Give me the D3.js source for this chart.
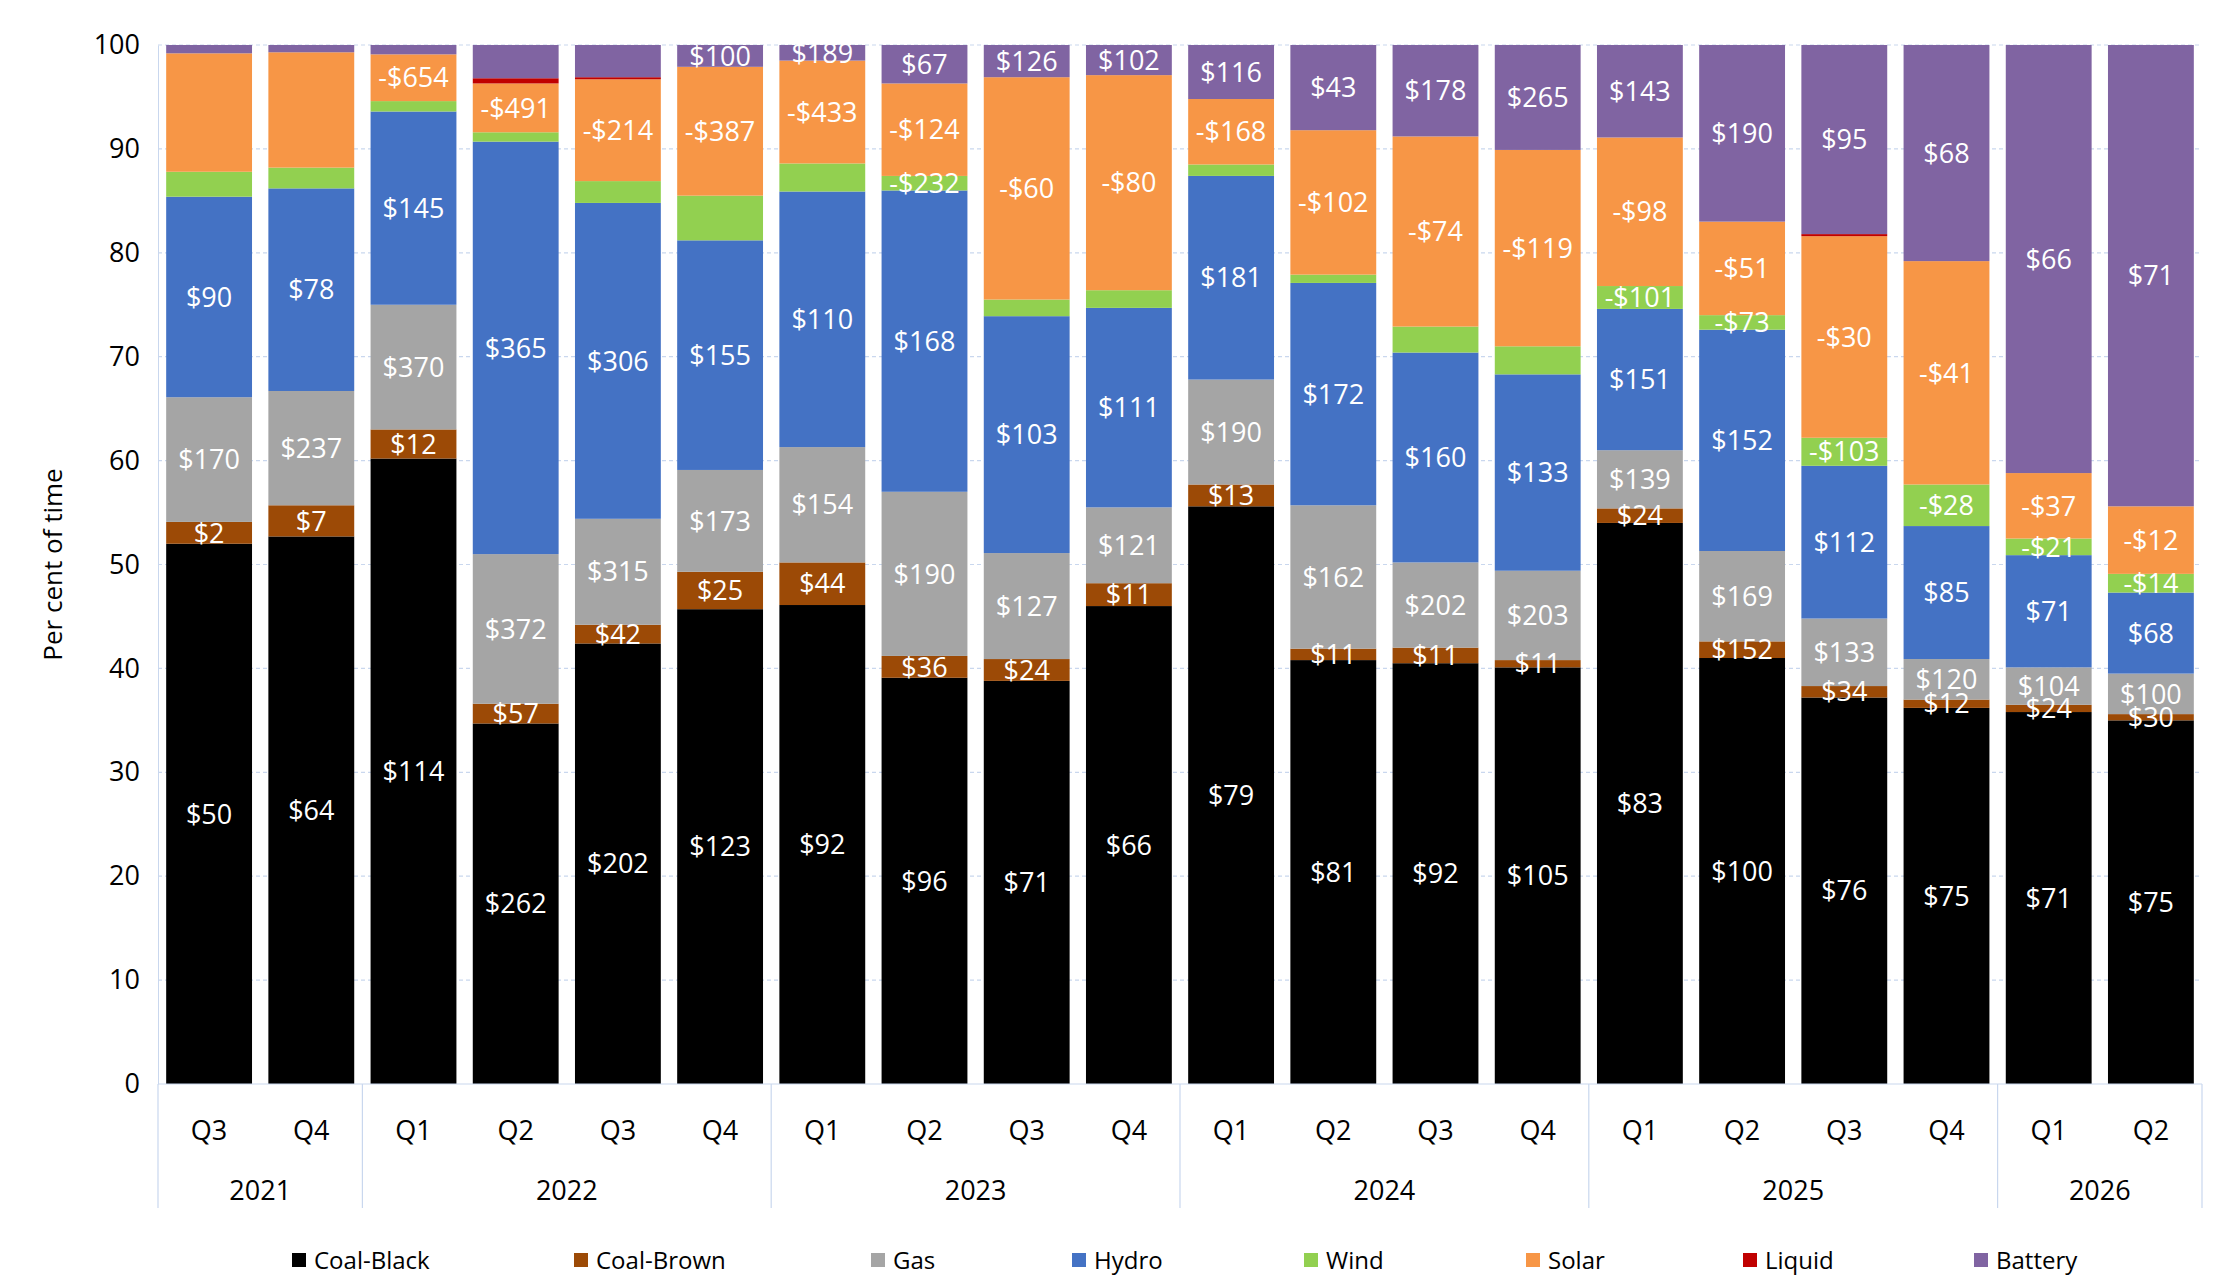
<!DOCTYPE html>
<html><head><meta charset="utf-8">
<script src="https://cdn.jsdelivr.net/npm/d3@7"></script>
<style>body{margin:0;background:#fff}text{font-family:"Open Sans","Noto Sans",sans-serif}</style>
</head><body><svg id="c" width="2225" height="1287"></svg>
<script>
const quarters=["Q3","Q4","Q1","Q2","Q3","Q4","Q1","Q2","Q3","Q4","Q1","Q2","Q3","Q4","Q1","Q2","Q3","Q4","Q1","Q2"];
const years=["2021","2021","2022","2022","2022","2022","2023","2023","2023","2023","2024","2024","2024","2024","2025","2025","2025","2025","2026","2026"];
const seriesNames=["Coal-Black","Coal-Brown","Gas","Hydro","Wind","Solar","Liquid","Battery"];
const colors=["#000000","#9C4A06","#A5A5A5","#4472C4","#92D050","#F79646","#C00000","#8064A2"];
const coalBlack=[52,52.7,60.2,34.7,42.4,45.7,46.1,39.1,38.8,46,55.6,40.8,40.5,40.1,54,41,37.2,36.2,35.8,35];
const coalBrown=[2.1,3,2.8,1.9,1.8,3.6,4.1,2.1,2.1,2.2,2.1,1.1,1.5,0.7,1.4,1.6,1.1,0.8,0.7,0.6];
const gas=[12,11,12,14.4,10.2,9.8,11.1,15.8,10.2,7.3,10.1,13.8,8.2,8.6,5.6,8.7,6.5,3.9,3.6,3.9];
const hydro=[19.3,19.5,18.6,39.7,30.4,22.1,24.6,29,22.8,19.2,19.6,21.4,20.2,18.9,13.6,21.3,14.7,12.8,10.8,7.8];
const wind=[2.4,2,1,0.9,2.1,4.3,2.7,1.4,1.6,1.7,1.1,0.8,2.5,2.7,2.2,1.4,2.7,4,1.6,1.8];
const solar=[11.4,11.1,4.5,4.7,9.8,12.4,9.9,8.9,21.4,20.7,6.3,13.9,18.3,18.9,14.3,9,19.4,21.5,6.3,6.5];
const liquid=[0,0,0,0.5,0.2,0,0,0,0,0,0,0,0,0,0,0,0.2,0,0,0];
const battery=[0.8,0.7,0.9,3.2,3.1,2.1,1.5,3.7,3.1,2.9,5.2,8.2,8.8,10.1,8.9,17,18.2,20.8,41.2,44.4];
const lblBlack=[50,64,114,262,202,123,92,96,71,66,79,81,92,105,83,100,76,75,71,75];
const lblBrown=[2,7,12,57,42,25,44,36,24,11,13,11,11,11,24,152,34,12,24,30];
const lblGas=[170,237,370,372,315,173,154,190,127,121,190,162,202,203,139,169,133,120,104,100];
const lblHydro=[90,78,145,365,306,155,110,168,103,111,181,172,160,133,151,152,112,85,71,68];
const lblWind=[null,null,null,null,null,null,null,-232,null,null,null,null,null,null,-101,-73,-103,-28,-21,-14];
const lblSolar=[null,null,-654,-491,-214,-387,-433,-124,-60,-80,-168,-102,-74,-119,-98,-51,-30,-41,-37,-12];
const lblLiquid=quarters.map(()=>null);
const lblBattery=[null,null,null,null,null,100,189,67,126,102,116,43,178,265,143,190,95,68,66,71];
const yTicks=[0,10,20,30,40,50,60,70,80,90,100];

const vals=[coalBlack,coalBrown,gas,hydro,wind,solar,liquid,battery];
const lbls=[lblBlack,lblBrown,lblGas,lblHydro,lblWind,lblSolar,lblLiquid,lblBattery];
const svg=d3.select("#c");
const L=158,R=2202,T=45,B=1084;
const x=d3.scaleBand().domain(d3.range(quarters.length)).range([L,R]).paddingInner(0.16).paddingOuter(0.08);
const y=d3.scaleLinear().domain([0,100]).range([B,T]);
const grid="#C9D7EE";
svg.append("g").selectAll("line").data(yTicks.filter(d=>d>0)).join("line")
 .attr("x1",L).attr("x2",R).attr("y1",d=>y(d)).attr("y2",d=>y(d))
 .attr("stroke",grid).attr("stroke-dasharray","4,3").attr("stroke-width",1.2);
const ya=svg.append("g").attr("transform",`translate(${L},0)`).call(d3.axisLeft(y).tickValues(yTicks).tickSize(0).tickPadding(18));
ya.select(".domain").attr("stroke",grid);
ya.selectAll("text").attr("font-size",27).attr("fill","#000");
svg.append("text").attr("transform",`translate(62,${(T+B)/2}) rotate(-90)`).attr("text-anchor","middle").attr("font-size",26).text("Per cent of time");

const fmt=v=>v<0?"-$"+Math.abs(v):"$"+v;
quarters.forEach((q,i)=>{
 let base=0;
 vals.forEach((s,k)=>{
  const v=s[i];
  if(v>0){
   svg.append("rect").attr("x",x(i)).attr("width",x.bandwidth()).attr("y",y(base+v)).attr("height",y(base)-y(base+v)).attr("fill",colors[k]);
  }
  base+=v;
 });
 base=0;
 vals.forEach((s,k)=>{
  const v=s[i],l=lbls[k][i];
  if(l!==null&&l!==undefined){
   svg.append("text").attr("x",x(i)+x.bandwidth()/2).attr("y",y(base+v/2)).attr("dy","0.36em")
    .attr("text-anchor","middle").attr("font-size",27).attr("fill","#fff").text(fmt(l));
  }
  base+=v;
 });
});
svg.append("line").attr("x1",L).attr("x2",R).attr("y1",B).attr("y2",B).attr("stroke",grid).attr("stroke-width",1.2);
const step=x.step();
const edge=i=>x(i)-step*x.paddingInner()/2;
const bounds=[L];
for(let i=1;i<years.length;i++) if(years[i]!==years[i-1]) bounds.push(edge(i));
bounds.push(R);
svg.append("g").selectAll("line").data(bounds).join("line").attr("x1",d=>d).attr("x2",d=>d).attr("y1",B).attr("y2",1208).attr("stroke",grid).attr("stroke-width",1.2);
svg.append("g").selectAll("text").data(quarters).join("text").attr("x",(d,i)=>x(i)+x.bandwidth()/2).attr("y",1140).attr("text-anchor","middle").attr("font-size",27).text(d=>d);
const uy=[...new Set(years)];
uy.forEach(yr=>{
 const idx=years.map((d,i)=>d===yr?i:-1).filter(i=>i>=0);
 const cx=(x(idx[0])+x(idx[idx.length-1])+x.bandwidth())/2;
 svg.append("text").attr("x",cx).attr("y",1200).attr("text-anchor","middle").attr("font-size",27).text(yr);
});
const lx=[292,574,871,1072,1304,1526,1743,1974];
seriesNames.forEach((n,k)=>{
 svg.append("rect").attr("x",lx[k]).attr("y",1253).attr("width",14).attr("height",14).attr("fill",colors[k]);
 svg.append("text").attr("x",lx[k]+22).attr("y",1260).attr("dy","0.36em").attr("font-size",24).text(n);
});
</script></body></html>
